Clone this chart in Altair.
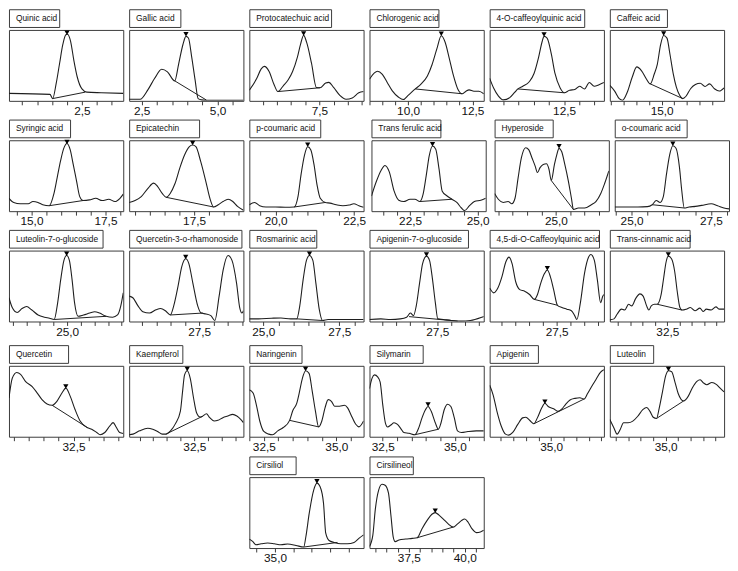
import math
import altair as alt
import pandas as pd

# ---------------- data ----------------
NAMES = ["Quinic acid", "Gallic acid", "Protocatechuic acid", "Chlorogenic acid",
         "4-O-caffeoylquinic acid", "Caffeic acid",
         "Syringic acid", "Epicatechin", "p-coumaric acid", "Trans ferulic acid",
         "Hyperoside", "o-coumaric acid",
         "Luteolin-7-o-glucoside", "Quercetin-3-o-rhamonoside", "Rosmarinic acid",
         "Apigenin-7-o-glucoside", "4,5-di-O-Caffeoylquinic acid", "Trans-cinnamic acid",
         "Quercetin", "Kaempferol", "Naringenin", "Silymarin", "Apigenin", "Luteolin",
         "Cirsiliol", "Cirsilineol"]

X_LO = [0.06, 2.09, 5.02, 8.5, 10.05, 12.96,
        14.24, 15.3, 19.16, 21.07, 22.87, 24.47,
        22.86, 25.05, 24.54, 25.05, 25.05, 30.17,
        30.33, 30.12, 32.0, 32.04, 32.55, 32.76,
        34.3, 35.74]
X_HI = [3.88, 5.85, 9.06, 12.94, 13.81, 17.46,
        18.1, 19.17, 22.8, 25.3, 26.84, 28.07,
        27.06, 29.05, 28.3, 29.18, 29.23, 34.8,
        34.17, 34.29, 35.94, 36.0, 37.1, 37.34,
        37.41, 40.85]

PEAK_T = [2.0, 3.96, 6.94, 11.29, 11.84, 15.08,
          16.2, 17.45, 21.02, 23.33, 25.11, 26.3,
          24.98, 27.03, 26.52, 27.11, 27.16, 32.54,
          32.24, 32.24, 33.94, 34.07, 34.75, 35.11,
          36.14, 38.68]
PEAK_Y = [96, 94, 95, 94.5, 93.5, 95,
          97.5, 96, 93.5, 94.5, 91.5, 95,
          95.5, 91, 95.5, 94.5, 75, 94.5,
          71, 95.5, 95.5, 45.5, 49.5, 95.5,
          94, 52.5]

BASE_T0 = [1.52, 3.59, 6.03, 10.28, 10.98, 14.55,
           15.6, 16.56, 20.59, 22.86, 24.84, 25.65,
           24.52, 26.49, 26.1, 26.48, 26.68, 32.09,
           31.78, 31.46, 33.39, 33.61, 34.31, 34.63,
           35.78, 37.87]
BASE_Y0 = [3.2, 28.2, 13.1, 16.8, 16.8, 24,
           7.7, 19.5, 5.9, 13.6, 43.2, 9.1,
           2.8, 9.2, 3.7, 6.9, 31.2, 24.3,
           44.4, 3.7, 23.1, 2.8, 18.3, 25.7,
           1.4, 14.5]
BASE_T1 = [2.61, 4.63, 7.52, 12.1, 12.51, 15.83,
           16.74, 18.16, 21.58, 24.05, 25.61, 26.66,
           26.43, 27.63, 26.95, 28.24, 27.53, 33.1,
           32.96, 32.79, 34.39, 34.43, 36.31, 35.72,
           36.7, 39.48]
BASE_Y1 = [12.3, 1.2, 18.5, 10, 11.4, 3.2,
           15, 5.9, 12.3, 16.8, 2.3, 4.5,
           7.3, 11.9, 1.4, 0.5, 22.9, 16.1,
           13, 28.7, 13.9, 10.6, 53.2, 50.5,
           7.9, 29.5]

quinic_t = [0.06, 1.43, 1.52, 1.64, 1.75, 1.86, 1.96, 2.02, 2.12, 2.23, 2.34, 2.5, 2.66, 3.14, 3.88]
quinic_y = [10.5, 9.1, 3.2, 25, 52.3, 79.5, 93.2, 94, 84, 56.8, 34, 16.8, 12.3, 11.4, 10.5]

gallic_t = [2.09, 2.45, 2.71, 2.93, 3.16, 3.35, 3.59, 3.72, 3.86, 3.96, 4.04, 4.15, 4.26, 4.36, 4.47, 4.63, 4.95, 5.85]
gallic_y = [2.3, 2.3, 15.9, 31.8, 44.5, 40.9, 28.2, 52.3, 79.5, 90.9, 88.6, 61.4, 29.5, 3.2, 1.4, 0.9, 0.9, 0.9]

proto_t = [5.02, 5.28, 5.44, 5.55, 5.72, 5.89, 6.03, 6.22, 6.39, 6.55, 6.72, 6.83, 6.94, 7.05, 7.22, 7.39, 7.52,
           7.72, 7.83, 8.0, 8.22, 8.44, 8.66, 8.89, 9.06]
proto_y = [14.9, 31.5, 45, 48.6, 41.4, 23.4, 13.1, 21.2, 29.3, 41.4, 61.7, 79.7, 92.3, 82, 52.7, 18.9, 18.5,
           25.2, 26.1, 18.9, 7.7, 2.3, 4.1, 11.3, 13.1]

chloro_t = [8.5, 8.69, 8.81, 9.0, 9.19, 9.38, 9.62, 9.81, 10.0, 10.28, 10.5, 10.75, 10.93, 11.12, 11.29, 11.44,
            11.6, 11.75, 11.93, 12.1, 12.25, 12.37, 12.56, 12.75, 12.94]
chloro_y = [30.5, 39.5, 41.8, 37.3, 25.9, 14.5, 5.5, 1.8, 7.7, 16.8, 23.6, 35, 50.9, 73.6, 91.8, 82.7,
            60, 37.3, 16.8, 10, 13.6, 15.5, 13.6, 13.6, 10]

caffq_t = [10.05, 10.18, 10.34, 10.5, 10.71, 10.88, 10.98, 11.14, 11.36, 11.51, 11.66, 11.78, 11.84, 11.94,
           12.08, 12.2, 12.37, 12.51, 12.68, 12.85, 13.01, 13.17, 13.33, 13.49, 13.65, 13.81]
caffq_y = [31.8, 18.2, 6.8, 1.4, 4.5, 12.3, 16.8, 20.5, 27.3, 38.6, 61.4, 84.1, 90.9, 88.6,
           65.9, 38.6, 18.2, 11.4, 15, 15.9, 20.5, 16.8, 25.9, 20.5, 22.7, 25.9]

caffeic_t = [12.96, 13.15, 13.33, 13.46, 13.65, 13.84, 14.02, 14.21, 14.4, 14.55, 14.71, 14.83, 14.96, 15.08,
             15.21, 15.33, 15.46, 15.58, 15.71, 15.83, 15.96, 16.14, 16.33, 16.52, 16.71, 16.89, 17.08, 17.27, 17.46]
caffeic_y = [21.7, 13.8, 3.2, 0.9, 12.4, 33.2, 47.9, 42.4, 30.9, 24, 37.8, 51.6, 79.3, 92.2,
             88.5, 65.4, 37.8, 19.4, 7.8, 3.2, 6.5, 17.1, 23, 24.9, 20.3, 24, 17.1, 13.8, 18.4]

syringic_t = [14.24, 14.4, 14.62, 14.89, 15.05, 15.22, 15.38, 15.6, 15.76, 15.87, 15.98, 16.09, 16.2, 16.31,
              16.41, 16.52, 16.63, 16.74, 16.96, 17.17, 17.39, 17.61, 17.82, 17.99, 18.1]
syringic_y = [18.2, 12.3, 10.5, 10.5, 13.6, 12.3, 9.1, 7.7, 25, 47.7, 70.5, 88.6, 95.5, 86.4,
              65.9, 43.2, 20.5, 15, 15.9, 18.2, 15, 16.8, 13.6, 18.2, 24.1]

epicat_t = [15.3, 15.5, 15.71, 15.93, 16.13, 16.26, 16.42, 16.56, 16.69, 16.85, 17.02, 17.18, 17.34, 17.45,
            17.56, 17.72, 17.89, 18.05, 18.16, 18.32, 18.48, 18.65, 18.81, 18.97, 19.17]
epicat_y = [12.3, 15, 20.5, 31.8, 39.5, 35, 25, 19.5, 25, 38.6, 61.4, 79.5, 90.9, 93.2,
            90.9, 70.5, 43.2, 15.9, 5.9, 9.1, 13.6, 16.8, 13.6, 6.8, 1.4]

pcoum_t = [19.16, 19.33, 19.49, 19.69, 20.0, 20.3, 20.59, 20.71, 20.81, 20.92, 21.02, 21.12, 21.22, 21.32,
           21.42, 21.58, 21.73, 21.93, 22.14, 22.34, 22.49, 22.65, 22.8]
pcoum_y = [9.1, 12.3, 7.7, 5.9, 5.9, 5.5, 5.9, 20.5, 52.3, 79.5, 90.9, 86.4, 65.9, 36.4,
           18.2, 12.3, 11.4, 9.1, 7.7, 8.6, 10.5, 7.7, 5.5]

ferulic_t = [21.07, 21.25, 21.43, 21.57, 21.73, 21.91, 22.08, 22.26, 22.5, 22.68, 22.86, 22.98, 23.1, 23.21,
             23.33, 23.45, 23.57, 23.69, 23.87, 24.05, 24.23, 24.4, 24.52, 24.7, 24.88, 25.12, 25.3]
ferulic_y = [21.4, 41.8, 57.7, 64.5, 55.5, 28.2, 15.5, 13.6, 16.8, 16.8, 13.6, 23.6, 50.9, 78.2,
             91.8, 87.3, 60, 28.2, 21.4, 16.8, 12.3, 4.5, 0.9, 7.7, 13.6, 15.5, 18.2]

hyper_t = [22.87, 23.0, 23.17, 23.34, 23.47, 23.58, 23.69, 23.8, 23.95, 24.06, 24.17, 24.28, 24.36, 24.45,
           24.56, 24.67, 24.76, 24.84, 24.95, 25.03, 25.11, 25.2, 25.31, 25.43, 25.54, 25.61, 25.78, 26.0,
           26.23, 26.39, 26.56, 26.69, 26.84]
hyper_y = [25, 16.8, 12.3, 13.6, 10.5, 18.2, 47.7, 75, 89.5, 86.4, 75, 63.6, 54.5, 61.4,
           65.9, 66.8, 59.1, 43.2, 65.9, 79.5, 88.6, 84.1, 65.9, 43.2, 18.2, 2.3, 4.5, 4.5,
           9.1, 13.6, 25, 38.6, 56.8]

ocoum_t = [24.47, 24.79, 25.2, 25.5, 25.65, 25.78, 25.9, 26.0, 26.1, 26.2, 26.3, 26.4, 26.51, 26.58,
           26.66, 26.81, 27.01, 27.21, 27.51, 27.71, 27.91, 28.07]
ocoum_y = [5.9, 5.9, 5.9, 6.4, 9.1, 15, 12.3, 20.5, 52.3, 79.5, 92.3, 88.6, 61.4, 29.5,
           4.5, 5.9, 6.8, 8.2, 10.5, 7.7, 4.5, 3.2]

lut7_t = [22.86, 22.98, 23.16, 23.34, 23.51, 23.69, 23.93, 24.17, 24.35, 24.52, 24.65, 24.76, 24.88, 24.98,
          25.08, 25.18, 25.27, 25.4, 25.6, 25.83, 26.01, 26.19, 26.43, 26.67, 26.85, 26.97, 27.06]
lut7_y = [33.5, 19.7, 12.8, 18.3, 21.1, 16.5, 9.2, 6, 4.6, 2.8, 26.6, 58.7, 86.2, 93.1,
          86.2, 58.7, 26.6, 7.3, 9.2, 11.9, 13.8, 11.9, 7.3, 6, 9.2, 22, 40.4]

q3r_t = [25.05, 25.18, 25.36, 25.53, 25.76, 25.99, 26.15, 26.32, 26.49, 26.61, 26.76, 26.89, 27.03, 27.14,
         27.28, 27.45, 27.57, 27.74, 27.91, 28.05, 28.2, 28.34, 28.51, 28.65, 28.81, 28.92, 29.0, 29.05]
q3r_y = [35.8, 33.5, 22, 13.8, 11.9, 16.5, 18.3, 15.1, 9.2, 22, 49.5, 77.1, 88.5, 81.7,
         54.1, 22, 11.9, 10.6, 8.3, 1.4, 35.8, 72.5, 93.1, 86.2, 54.1, 19.7, 11.9, 15.1]

rosm_t = [24.54, 24.84, 25.27, 25.58, 25.9, 26.1, 26.2, 26.31, 26.42, 26.52, 26.63, 26.73, 26.84, 26.95,
          27.13, 27.39, 27.82, 28.3]
rosm_y = [3.7, 3.7, 4.6, 5.0, 3.7, 3.7, 22, 58.7, 86.2, 93.1, 86.2, 54.1, 17.4, 1.4,
          2.8, 2.8, 2.8, 2.8]

api7_t = [25.05, 25.46, 25.81, 26.16, 26.39, 26.53, 26.64, 26.74, 26.86, 26.97, 27.11, 27.22, 27.33, 27.43,
          27.52, 27.72, 28.01, 28.36, 28.7, 29.11, 29.18]
api7_y = [2.8, 3.7, 2.8, 3.7, 6, 11.9, 8.3, 22, 54.1, 81.7, 92.2, 86.2, 58.7, 26.6,
          3.7, 2.8, 1.4, 0.5, 1.4, 6, 7]

dicq_t = [25.05, 25.2, 25.32, 25.5, 25.64, 25.76, 25.87, 26.0, 26.15, 26.33, 26.51, 26.68, 26.8, 26.92,
          27.06, 27.16, 27.27, 27.39, 27.53, 27.69, 27.87, 28.04, 28.16, 28.24, 28.37, 28.52, 28.67, 28.75,
          28.88, 28.99, 29.11, 29.19, 29.23]
dicq_y = [47.2, 40.4, 45, 63.3, 83.9, 90.8, 81.7, 56.4, 45, 42.7, 38.1, 31.2, 38.1, 54.1,
          67.9, 72.5, 63.3, 45, 22.9, 19.7, 17.4, 15.1, 8.3, 2.8, 26.6, 67.9, 90.8, 94.5,
          86.2, 58.7, 26.6, 35.8, 38.1]

cinn_t = [30.17, 30.34, 30.47, 30.64, 30.77, 30.93, 31.06, 31.22, 31.39, 31.52, 31.66, 31.75, 31.85, 31.98,
          32.09, 32.25, 32.35, 32.45, 32.54, 32.67, 32.8, 32.9, 33.01, 33.1, 33.27, 33.43, 33.62, 33.82,
          33.95, 34.08, 34.28, 34.47, 34.61, 34.8]
cinn_y = [2.3, 3.7, 10.6, 17.4, 16.1, 24.3, 22, 32.6, 39, 35.8, 22, 16.1, 22, 24.3,
          24.3, 38.1, 61, 83.9, 92.2, 88.5, 70.2, 42.7, 19.7, 16.1, 17.4, 19.7, 15.1, 18.8,
          14.2, 17.4, 16.1, 20.6, 17.4, 17.4]

querc_t = [30.33, 30.44, 30.59, 30.72, 30.89, 31.11, 31.28, 31.44, 31.61, 31.78, 31.94, 32.11, 32.24, 32.39,
           32.55, 32.72, 32.96, 33.11, 33.28, 33.39, 33.55, 33.72, 33.83, 33.94, 34.05, 34.17]
querc_y = [54.6, 82.4, 90.7, 88, 77.8, 70.8, 61.6, 52.3, 46.3, 44.4, 50, 61.6, 68.5, 56.9,
           38.4, 22.2, 13, 10.6, 6, 2.8, 6, 15.3, 19.9, 13, 6, 4.6]

kaemp_t = [30.12, 30.26, 30.5, 30.8, 30.98, 31.16, 31.33, 31.46, 31.63, 31.81, 31.99, 32.07, 32.14, 32.24,
           32.35, 32.47, 32.58, 32.71, 32.79, 32.94, 33.06, 33.22, 33.36, 33.54, 33.72, 33.9, 34.05, 34.19, 34.29]
kaemp_y = [2.8, 3.7, 8.3, 12, 10.6, 7.4, 3.7, 3.7, 8.3, 18.5, 36.1, 63.9, 87, 93.1,
           82.4, 54.6, 33.8, 27.8, 28.7, 32.4, 26.9, 22.2, 23.1, 26.9, 29.2, 31.5, 29.2, 24.5, 19.9]

narin_t = [32.0, 32.13, 32.24, 32.36, 32.5, 32.67, 32.8, 32.98, 33.17, 33.39, 33.5, 33.64, 33.72, 33.83,
           33.94, 34.06, 34.17, 34.28, 34.39, 34.5, 34.61, 34.72, 34.83, 34.94, 35.11, 35.28, 35.39, 35.5,
           35.67, 35.78, 35.94]
narin_y = [66.2, 61.6, 45.4, 22.2, 7.4, 3.7, 2.8, 8.3, 13, 23.1, 37, 47.7, 61.6, 82.4,
           93.1, 89.4, 63.9, 36.1, 13.9, 22.2, 40.7, 52.3, 50, 43.1, 43.1, 44.4, 40.7, 31.5,
           17.6, 13.9, 22.2]

silym_t = [32.04, 32.13, 32.21, 32.33, 32.41, 32.5, 32.59, 32.67, 32.78, 32.89, 33.01, 33.12, 33.23, 33.41,
           33.61, 33.75, 33.86, 33.98, 34.07, 34.18, 34.32, 34.43, 34.52, 34.63, 34.75, 34.86, 34.98, 35.09,
           35.23, 35.45, 35.74, 36.0]
silym_y = [67.9, 82.6, 87.2, 84, 77.1, 45, 19.7, 13.8, 16.5, 19.7, 17.4, 11.9, 6, 5,
           2.8, 12.8, 26.6, 38.1, 42.7, 35.8, 19.7, 10.6, 19.7, 38.1, 45.9, 42.7, 26.6, 8.3,
           6, 7.3, 8.3, 8.3]

apig_t = [32.55, 32.69, 32.84, 33.01, 33.18, 33.31, 33.47, 33.67, 33.86, 33.99, 34.15, 34.31, 34.45, 34.62,
          34.75, 34.88, 35.1, 35.27, 35.43, 35.56, 35.75, 35.95, 36.14, 36.31, 36.45, 36.6, 36.8, 36.96, 37.1]
apig_y = [72.5, 58.7, 35.8, 15.1, 3.7, 2.3, 6, 17.4, 26.6, 27.5, 22.9, 18.3, 26.6, 40.4,
          47.2, 42.7, 39.4, 35.8, 39.4, 45, 51.8, 54.1, 55, 53.2, 61, 70.2, 81.7, 90.8, 94.5]

lute_t = [32.76, 32.92, 33.05, 33.18, 33.31, 33.49, 33.68, 33.88, 34.08, 34.24, 34.37, 34.5, 34.63, 34.74,
          34.87, 35.0, 35.11, 35.24, 35.37, 35.5, 35.72, 35.9, 36.06, 36.25, 36.38, 36.52, 36.65, 36.85,
          37.04, 37.17, 37.34]
lute_y = [24.3, 12.8, 3.7, 10.6, 19.7, 19.7, 22, 28.9, 38.1, 41.3, 35.8, 27.5, 25.7, 40.4,
          63.3, 86.2, 93.1, 91.7, 77.1, 61, 50.5, 56.9, 68.3, 78, 80.3, 75.7, 73.4, 76.6,
          73.4, 68.8, 63.3]

cirsiliol_t = [34.3, 34.39, 34.48, 34.62, 34.8, 34.98, 35.16, 35.34, 35.57, 35.78, 35.84, 35.93, 36.05, 36.14,
               36.23, 36.32, 36.38, 36.47, 36.61, 36.79, 36.97, 37.15, 37.29, 37.41]
cirsiliol_y = [12.6, 9.3, 4.7, 6, 7, 6, 4.7, 5.6, 3.7, 1.4, 16.3, 48.8, 81.4, 91.6,
               86, 62.8, 20.9, 10.7, 7.9, 6, 6, 7.9, 14, 18.6]

cirsilin_t = [35.74, 35.89, 36.0, 36.15, 36.3, 36.44, 36.59, 36.7, 36.8, 36.89, 37.06, 37.36, 37.65, 37.87,
              38.09, 38.31, 38.53, 38.68, 38.85, 39.04, 39.26, 39.48, 39.68, 39.85, 40.0, 40.15, 40.32, 40.52,
              40.7, 40.85]
cirsilin_y = [2.3, 18.2, 54.5, 81.8, 90, 88.6, 77.3, 45.5, 15.9, 9.1, 11.4, 12.7, 13.6, 14.5,
              27.3, 38.6, 47.7, 50, 46.4, 40.9, 34.1, 29.5, 34.1, 38.6, 40.9, 36.4, 27.3, 21.8,
              22.7, 25]

TRACES = [(quinic_t, quinic_y), (gallic_t, gallic_y), (proto_t, proto_y), (chloro_t, chloro_y),
          (caffq_t, caffq_y), (caffeic_t, caffeic_y),
          (syringic_t, syringic_y), (epicat_t, epicat_y), (pcoum_t, pcoum_y), (ferulic_t, ferulic_y),
          (hyper_t, hyper_y), (ocoum_t, ocoum_y),
          (lut7_t, lut7_y), (q3r_t, q3r_y), (rosm_t, rosm_y), (api7_t, api7_y), (dicq_t, dicq_y),
          (cinn_t, cinn_y),
          (querc_t, querc_y), (kaemp_t, kaemp_y), (narin_t, narin_y), (silym_t, silym_y),
          (apig_t, apig_y), (lute_t, lute_y),
          (cirsiliol_t, cirsiliol_y), (cirsilin_t, cirsilin_y)]

# ---------------- layout / style ----------------
LABEL_W = [51, 52, 83, 70, 96, 58,
           62, 71, 72, 70, 59, 73,
           95, 114, 68, 100, 111, 81,
           60, 54, 53, 54, 49, 44,
           47, 44]
PW, PH, LH = 116, 72, 18
FONT = "Liberation Sans"
INK = "#1e1e1e"
FRAME = "#3a3a3a"

LABEL_EXPR = ("abs(datum.value / 2.5 - round(datum.value / 2.5)) < 0.01 ? "
              "replace(format(datum.value, '.1f'), '.', ',') : ''")


def tick_values(lo, hi):
    vals = []
    k = math.ceil(lo * 2 - 1e-9)
    while k / 2 <= hi + 1e-9:
        vals.append(round(k / 2, 2))
        k += 1
    return vals


def panel(i):
    lo, hi = X_LO[i], X_HI[i]
    xs = alt.Scale(domain=[lo, hi], nice=False, zero=False)
    ys = alt.Scale(domain=[0, 100], nice=False, zero=False)
    axis = alt.Axis(values=tick_values(lo, hi), labelExpr=LABEL_EXPR, title=None, grid=False,
                    domain=False, tickSize=4, tickColor=FRAME, tickWidth=1,
                    labelFont=FONT, labelFontSize=12, labelColor="#111111", labelPadding=1,
                    labelOverlap=False, labelFlush=False)
    x_enc = alt.X("t:Q", scale=xs, axis=axis)
    y_enc = alt.Y("y:Q", scale=ys, axis=None)

    t, y = TRACES[i]
    trace = alt.Chart(pd.DataFrame({"t": t, "y": y})).mark_line(
        color=INK, strokeWidth=1.1, interpolate="monotone", clip=True).encode(x=x_enc, y=y_enc)
    base = alt.Chart(pd.DataFrame({"t": [BASE_T0[i], BASE_T1[i]],
                                   "y": [BASE_Y0[i], BASE_Y1[i]]})).mark_line(
        color=INK, strokeWidth=1, clip=True).encode(x=x_enc, y=y_enc)
    peak = alt.Chart(pd.DataFrame({"t": [PEAK_T[i]], "y": [PEAK_Y[i]]})).mark_point(
        shape="triangle-down", filled=True, color="black", size=28, opacity=1).encode(x=x_enc, y=y_enc)
    plot = alt.layer(trace, base, peak).properties(width=PW, height=PH)

    label = alt.Chart(pd.DataFrame({"name": [NAMES[i]]})).mark_text(
        align="left", baseline="middle", font=FONT, fontSize=8.5, color="#111111").encode(
        text="name:N", x=alt.value(7), y=alt.value(LH / 2)).properties(width=LABEL_W[i], height=LH)
    return alt.vconcat(label, plot, spacing=1)


def blank():
    return alt.Chart(pd.DataFrame({"v": [0]})).mark_point(opacity=0).encode(
        x=alt.X("v:Q", axis=None), y=alt.Y("v:Q", axis=None)).properties(
        width=PW, height=10, view=alt.ViewBackground(stroke="transparent"))


panels = [panel(i) for i in range(len(NAMES))]
rows = [alt.hconcat(*panels[r * 6:(r + 1) * 6], spacing=4) for r in range(4)]
rows.append(alt.hconcat(blank(), blank(), panels[24], panels[25], spacing=4))

top3 = alt.vconcat(rows[0], rows[1], rows[2], spacing=1)
top4 = alt.vconcat(top3, rows[3], spacing=6)
chart = alt.vconcat(top4, rows[4], spacing=2).properties(
    padding={"top": -4, "left": 0, "right": 0, "bottom": 0})
chart = chart.configure(font=FONT).configure_view(stroke=FRAME, strokeWidth=1)

chart.save("out.html", embed_options={"renderer": "svg", "actions": False})
